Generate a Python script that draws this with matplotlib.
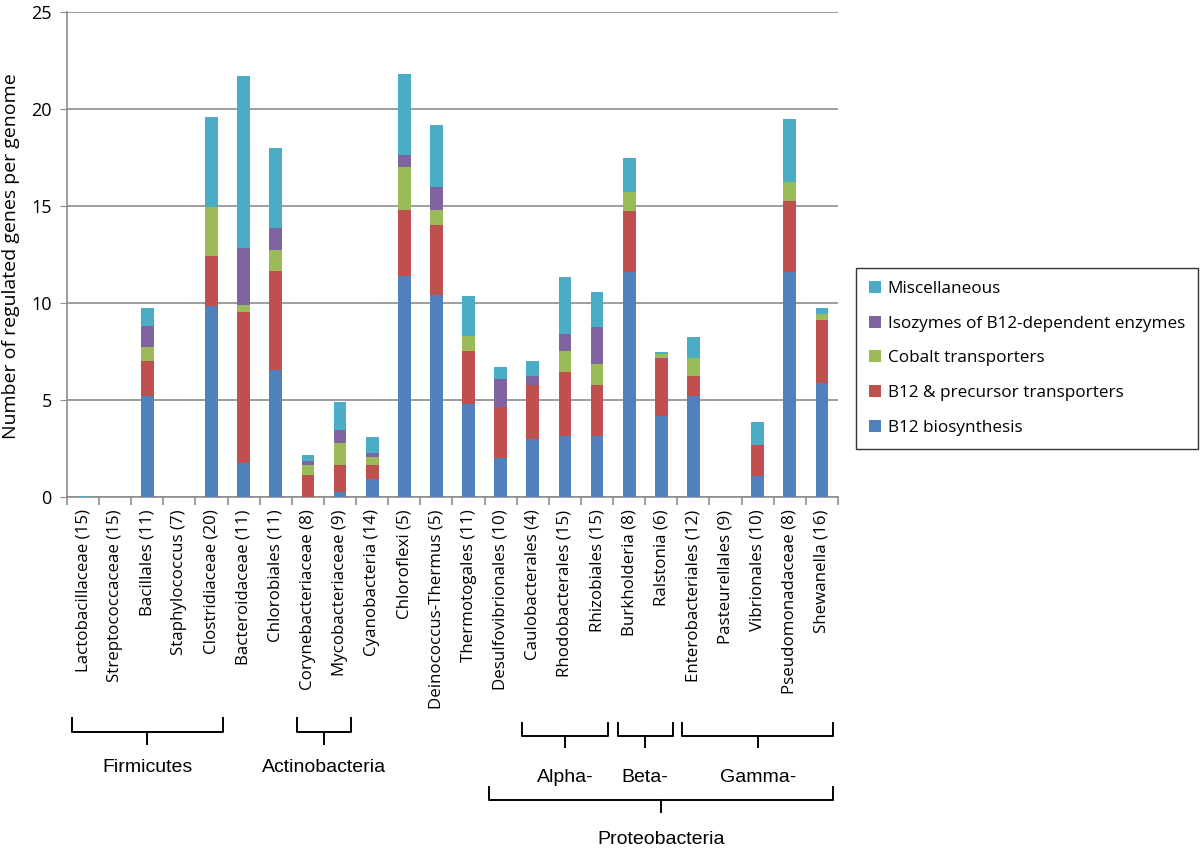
import matplotlib
matplotlib.use("Agg")
import matplotlib.pyplot as plt
import matplotlib.transforms as mtransforms
import numpy as np

categories = ["Lactobacillaceae (15)", "Streptococcaceae (15)", "Bacillales (11)",
              "Staphylococcus (7)", "Clostridiaceae (20)", "Bacteroidaceae (11)",
              "Chlorobiales (11)", "Corynebacteriaceae (8)", "Mycobacteriaceae (9)",
              "Cyanobacteria (14)", "Chloroflexi (5)", "Deinococcus-Thermus (5)",
              "Thermotogales (11)", "Desulfovibrionales (10)", "Caulobacterales (4)",
              "Rhodobacterales (15)", "Rhizobiales (15)", "Burkholderia (8)",
              "Ralstonia (6)", "Enterobacteriales (12)", "Pasteurellales (9)",
              "Vibrionales (10)", "Pseudomonadaceae (8)", "Shewanella (16)"]

b12_biosynthesis = [0, 0, 5.19, 0, 9.86, 1.73, 6.56, 0, 0.24, 0.93, 11.41, 10.39,
                    4.81, 2.01, 2.99, 3.14, 3.14, 11.61, 4.18, 5.22, 0, 1.10, 11.61, 5.86]
b12_transporters = [0, 0, 1.80, 0, 2.54, 7.81, 5.07, 1.11, 1.42, 0.70, 3.38, 3.61,
                    2.73, 2.61, 2.76, 3.30, 2.65, 3.13, 2.98, 1.03, 0, 1.58, 3.63, 3.26]
cobalt_transporters = [0, 0, 0.72, 0, 2.55, 0.37, 1.08, 0.52, 1.10, 0.45, 2.20, 0.79,
                       0.74, 0, 0, 1.07, 1.08, 1.00, 0.19, 0.91, 0, 0, 1.01, 0.33]
isozymes = [0, 0, 1.08, 0, 0, 2.91, 1.17, 0.24, 0.67, 0.20, 0.62, 1.20,
            0, 1.48, 0.49, 0.87, 1.87, 0, 0, 0, 0, 0, 0, 0]
miscellaneous = [0.07, 0, 0.93, 0, 4.65, 8.90, 4.12, 0.27, 1.45, 0.79, 4.19, 3.20,
                 2.10, 0.60, 0.75, 2.96, 1.84, 1.75, 0.14, 1.09, 0, 1.20, 3.25, 0.29]

series_names = ["B12 biosynthesis", "B12 & precursor transporters", "Cobalt transporters",
                "Isozymes of B12-dependent enzymes", "Miscellaneous"]
series_colors = ["#4F81BD", "#C0504D", "#9BBB59", "#8064A2", "#4BACC6"]

# groups: (label, first index, last index, level)
groups = [("Firmicutes", 0, 4, 0), ("Actinobacteria", 7, 8, 0),
          ("Alpha-", 14, 16, 1), ("Beta-", 17, 18, 1), ("Gamma-", 19, 23, 1),
          ("Proteobacteria", 13, 23, 2)]

W, H = 1200, 849
fig = plt.figure(figsize=(W / 100, H / 100), dpi=100)
ax = fig.add_axes([67 / W, 1 - 497 / H, (838 - 67) / W, (497 - 12) / H])

x = np.arange(len(categories))
bottom = np.zeros(len(categories))
handles = []
for vals, name, col in zip([b12_biosynthesis, b12_transporters, cobalt_transporters,
                            isozymes, miscellaneous], series_names, series_colors):
    v = np.array(vals)
    h = ax.bar(x, v, width=0.4, bottom=bottom, color=col, label=name, zorder=3)
    handles.append(h)
    bottom += v

ax.set_xlim(-0.5, len(categories) - 0.5)
ax.set_ylim(0, 25)
ax.set_yticks([0, 5, 10, 15, 20, 25])
ax.yaxis.grid(True, color="#8c8c8c", linewidth=1.2, zorder=0)
for s in ["top", "right"]:
    ax.spines[s].set_visible(False)
for s in ["left", "bottom"]:
    ax.spines[s].set_color("#8c8c8c")
    ax.spines[s].set_linewidth(1.2)
ax.tick_params(axis="y", length=5, color="#8c8c8c", labelsize=13, pad=6)
ax.set_xticks(x)
ax.set_xticklabels(categories, rotation=90, fontsize=12.2, family="Open Sans")
ax.tick_params(axis="x", which="major", length=0, pad=9)
ax.set_xticks(np.arange(len(categories) + 1) - 0.5, minor=True)
ax.tick_params(axis="x", which="minor", length=6, color="#8c8c8c", width=1.2)
for lab in ax.get_yticklabels():
    lab.set_family("Open Sans")

fig.text(11 / W, 1 - 256 / H, "Number of regulated genes per genome", rotation=90,
         ha="center", va="center", fontsize=14, family="Open Sans")

leg = fig.legend(handles[::-1], series_names[::-1], loc="upper left",
                 bbox_to_anchor=(856 / W, 1 - 268 / H), bbox_transform=fig.transFigure,
                 borderaxespad=0, frameon=True, fancybox=False, handlelength=0.7,
                 handleheight=0.7, handletextpad=0.4, labelspacing=1.1,
                 prop={"family": "Open Sans", "size": 12.3}, borderpad=0.75)
leg.get_frame().set_edgecolor("black")
leg.get_frame().set_linewidth(1.0)

# brackets (x in data coords, y in figure pixels)
trans = mtransforms.blended_transform_factory(ax.transData, fig.transFigure)
levels = {0: (718, 732, 744, 767), 1: (723, 736, 747, 777), 2: (787, 800, 812, 840)}
for label, i0, i1, lev in groups:
    ytop, ybot, ytick, ytext = levels[lev]
    xl, xr = i0 - 0.35, i1 + 0.35
    xm = (xl + xr) / 2
    ax.plot([xl, xl, xr, xr], [1 - ytop / H, 1 - ybot / H, 1 - ybot / H, 1 - ytop / H],
            transform=trans, color="black", lw=1.4, clip_on=False, solid_joinstyle="round")
    ax.plot([xm, xm], [1 - ybot / H, 1 - ytick / H], transform=trans, color="black",
            lw=1.4, clip_on=False)
    ax.text(xm, 1 - ytext / H, label, transform=trans, ha="center", va="center",
            fontsize=14, family="Liberation Sans")

fig.savefig("out.png", dpi=100)
